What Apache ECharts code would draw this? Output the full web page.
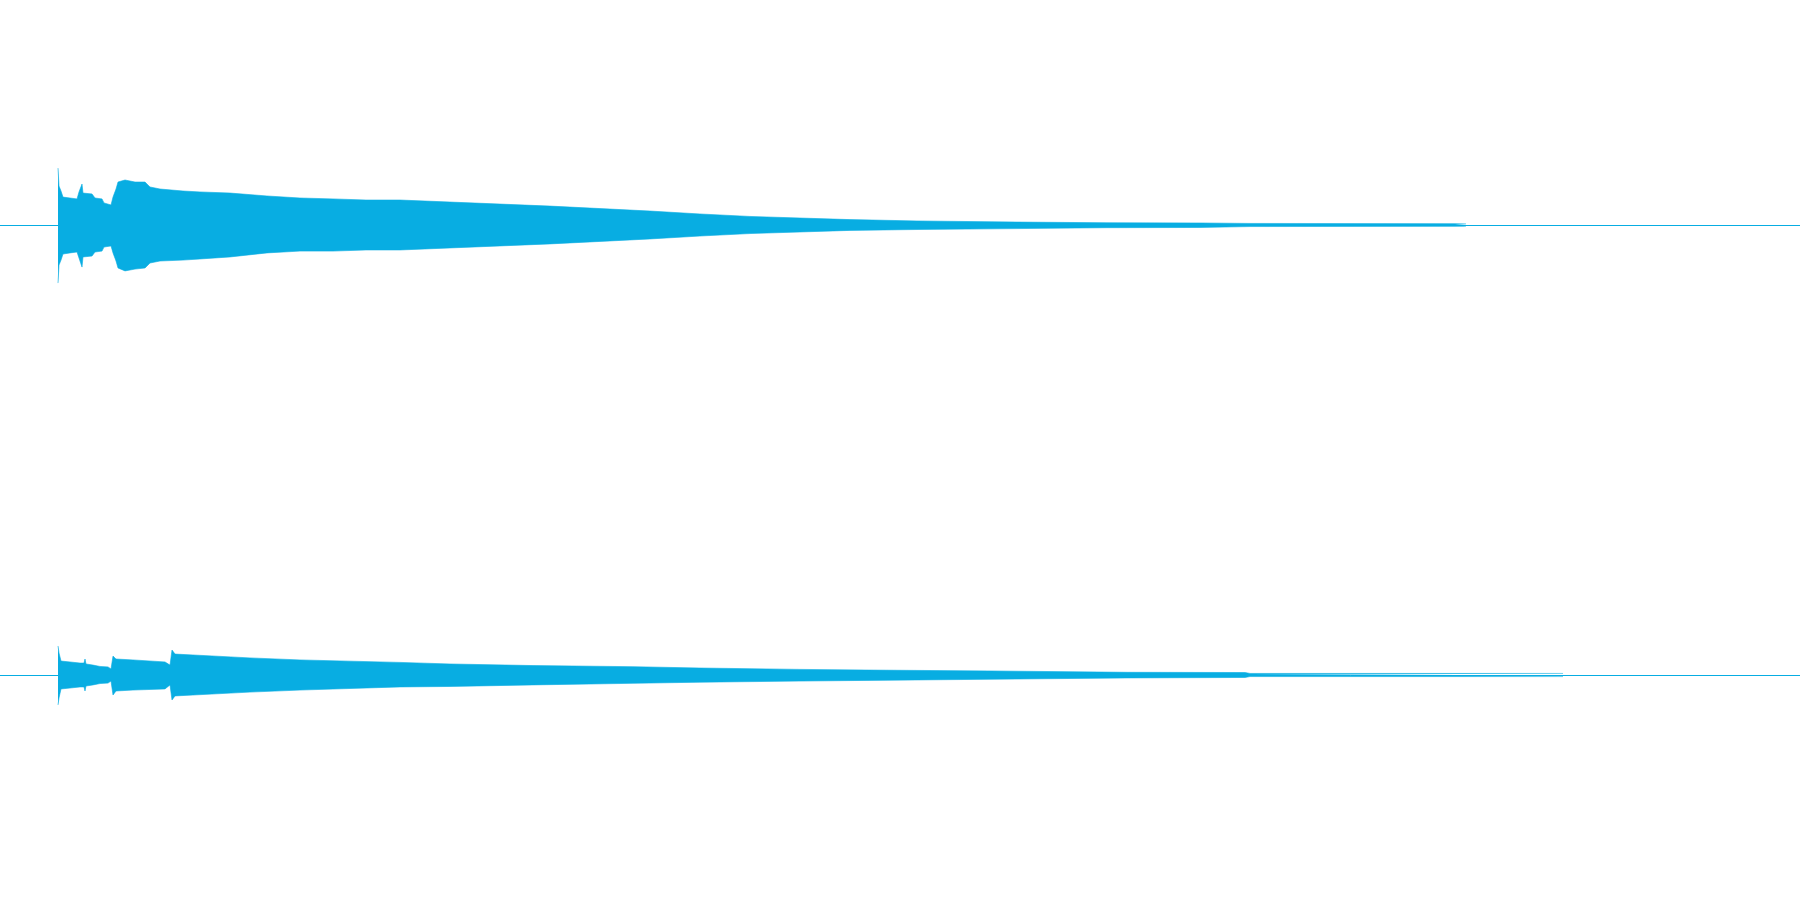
<!DOCTYPE html>
<html><head><meta charset="utf-8">
<script src="https://cdn.jsdelivr.net/npm/echarts@6/dist/echarts.min.js"></script>
<style>html,body{margin:0;padding:0;background:#fff}#c{width:1800px;height:900px}</style>
</head><body><div id="c"></div>
<script>
// Channel 1 (top): envelope time points (s), max and min sample amplitude (full scale = 1)
const ch1Time = [0.58,0.59,0.61,0.63,0.70,0.77,0.79,0.82,0.83,0.92,0.95,1.02,1.04,1.11,1.13,1.16,1.18,1.25,1.35,1.45,1.50,1.60,1.83,2.00,2.30,2.67,3.00,3.33,3.66,4.00,4.50,5.00,5.50,6.00,6.50,7.00,7.50,8.00,8.50,9.17,10.17,11.07,12.00,12.50,14.55,14.66];
const ch1Max = [0.253,0.173,0.151,0.124,0.120,0.116,0.147,0.182,0.142,0.138,0.120,0.116,0.098,0.089,0.124,0.160,0.191,0.200,0.191,0.191,0.169,0.160,0.151,0.147,0.142,0.129,0.120,0.116,0.111,0.111,0.102,0.093,0.084,0.073,0.062,0.049,0.038,0.031,0.024,0.018,0.013,0.010,0.009,0.007,0.006,0.005];
const ch1Min = [-0.258,-0.178,-0.156,-0.129,-0.124,-0.120,-0.147,-0.187,-0.142,-0.138,-0.120,-0.116,-0.098,-0.093,-0.124,-0.160,-0.191,-0.204,-0.196,-0.191,-0.169,-0.160,-0.156,-0.151,-0.142,-0.124,-0.116,-0.116,-0.111,-0.111,-0.102,-0.093,-0.084,-0.073,-0.062,-0.049,-0.038,-0.031,-0.024,-0.020,-0.016,-0.012,-0.011,-0.007,-0.006,-0.005];
// Channel 2 (bottom)
const ch2Time = [0.58,0.59,0.61,0.70,0.80,0.84,0.85,0.86,0.93,1.00,1.08,1.11,1.12,1.13,1.16,1.33,1.65,1.70,1.71,1.72,1.75,1.93,2.50,3.00,4.00,4.50,5.33,6.33,7.00,8.00,8.67,9.90,11.27,12.45,12.50,15.63];
const ch2Max = [0.129,0.098,0.062,0.058,0.053,0.053,0.071,0.049,0.044,0.038,0.036,0.027,0.027,0.084,0.071,0.067,0.058,0.044,0.044,0.111,0.093,0.089,0.076,0.067,0.056,0.049,0.042,0.037,0.031,0.025,0.022,0.018,0.012,0.011,0.007,0.007];
const ch2Min = [-0.133,-0.102,-0.062,-0.058,-0.053,-0.053,-0.071,-0.049,-0.044,-0.038,-0.036,-0.027,-0.027,-0.089,-0.071,-0.067,-0.062,-0.044,-0.044,-0.111,-0.093,-0.089,-0.076,-0.067,-0.053,-0.051,-0.044,-0.037,-0.032,-0.027,-0.024,-0.019,-0.013,-0.011,-0.007,-0.007];
const timeRange = [0, 18];
const ampRange = [-1, 1];

const COLOR = '#08ade2';
const pair = (t, v) => t.map((x, i) => [x, v[i]]);
function env(name, idx, t, v) {
  return {
    name, type: 'line', xAxisIndex: idx, yAxisIndex: idx,
    data: pair(t, v), symbol: 'none', silent: true,
    lineStyle: { width: 0.6, color: COLOR },
    areaStyle: { color: COLOR, opacity: 1 },
    animation: false
  };
}
const xa = (gi) => ({
  type: 'value', gridIndex: gi, min: timeRange[0], max: timeRange[1],
  axisLine: { show: true, onZero: true, lineStyle: { color: COLOR, width: 1 } },
  axisTick: { show: false }, axisLabel: { show: false }, splitLine: { show: false }
});
const ya = (gi) => ({
  type: 'value', gridIndex: gi, min: ampRange[0], max: ampRange[1],
  axisLine: { show: false }, axisTick: { show: false }, axisLabel: { show: false }, splitLine: { show: false }
});
const chart = echarts.init(document.getElementById('c'), null, { renderer: 'canvas' });
chart.setOption({
  backgroundColor: '#ffffff',
  animation: false,
  grid: [
    { left: 0, right: 0, top: 0, height: 450 },
    { left: 0, right: 0, top: 450, height: 450 }
  ],
  xAxis: [xa(0), xa(1)],
  yAxis: [ya(0), ya(1)],
  series: [
    env('ch1max', 0, ch1Time, ch1Max),
    env('ch1min', 0, ch1Time, ch1Min),
    env('ch2max', 1, ch2Time, ch2Max),
    env('ch2min', 1, ch2Time, ch2Min)
  ]
});
</script></body></html>
